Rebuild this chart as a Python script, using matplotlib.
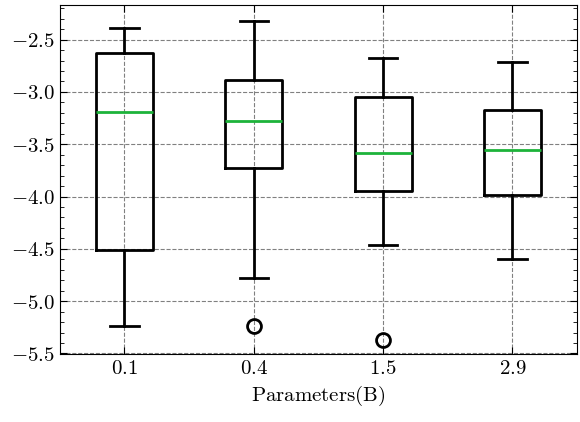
import matplotlib
matplotlib.use("Agg")
import matplotlib.pyplot as plt
from matplotlib.ticker import MultipleLocator, FuncFormatter

plt.rcParams['mathtext.fontset'] = 'cm'
plt.rcParams['font.family'] = 'serif'
plt.rcParams['font.size'] = 15

labels = ['0.1', '0.4', '1.5', '2.9']
whislo = [-5.24, -4.78, -4.46, -4.60]
q1 = [-4.51, -3.73, -3.95, -3.99]
med = [-3.19, -3.28, -3.58, -3.56]
q3 = [-2.63, -2.89, -3.05, -3.17]
whishi = [-2.39, -2.32, -2.68, -2.71]
fliers = [[], [-5.24], [-5.37], []]

stats = [dict(label=l, whislo=a, q1=b, med=c, q3=d, whishi=e, fliers=f)
         for l, a, b, c, d, e, f in zip(labels, whislo, q1, med, q3, whishi, fliers)]

fig = plt.figure(figsize=(5.8, 4.22), dpi=100)
ax = fig.add_axes([0.103, 0.16, 0.892, 0.828])
ax.bxp(stats, widths=0.44,
       boxprops=dict(color='black', linewidth=2),
       whiskerprops=dict(color='black', linewidth=2),
       capprops=dict(color='black', linewidth=2),
       medianprops=dict(color='#1db33a', linewidth=2),
       flierprops=dict(marker='o', markerfacecolor='none', markeredgecolor='black',
                       markersize=10, markeredgewidth=2))
ax.set_ylim(-5.51, -2.17)
ax.yaxis.set_major_locator(MultipleLocator(0.5))
ax.yaxis.set_minor_locator(MultipleLocator(0.1))
ax.yaxis.set_major_formatter(FuncFormatter(lambda v, p: r'$%.1f$' % v))
ax.set_xticks(range(1, 5))
ax.set_xticklabels([r'$%s$' % l for l in labels])
ax.tick_params(direction='in', which='both', top=True, right=True)
ax.tick_params(which='major', length=5)
ax.tick_params(which='minor', length=3)
ax.tick_params(axis='x', which='minor', top=False, bottom=False)
ax.grid(True, linestyle='--', color='gray', linewidth=0.8)
ax.set_axisbelow(True)
ax.set_xlabel(r'$\mathrm{Parameters(B)}$')
fig.savefig('out.png', dpi=100)
